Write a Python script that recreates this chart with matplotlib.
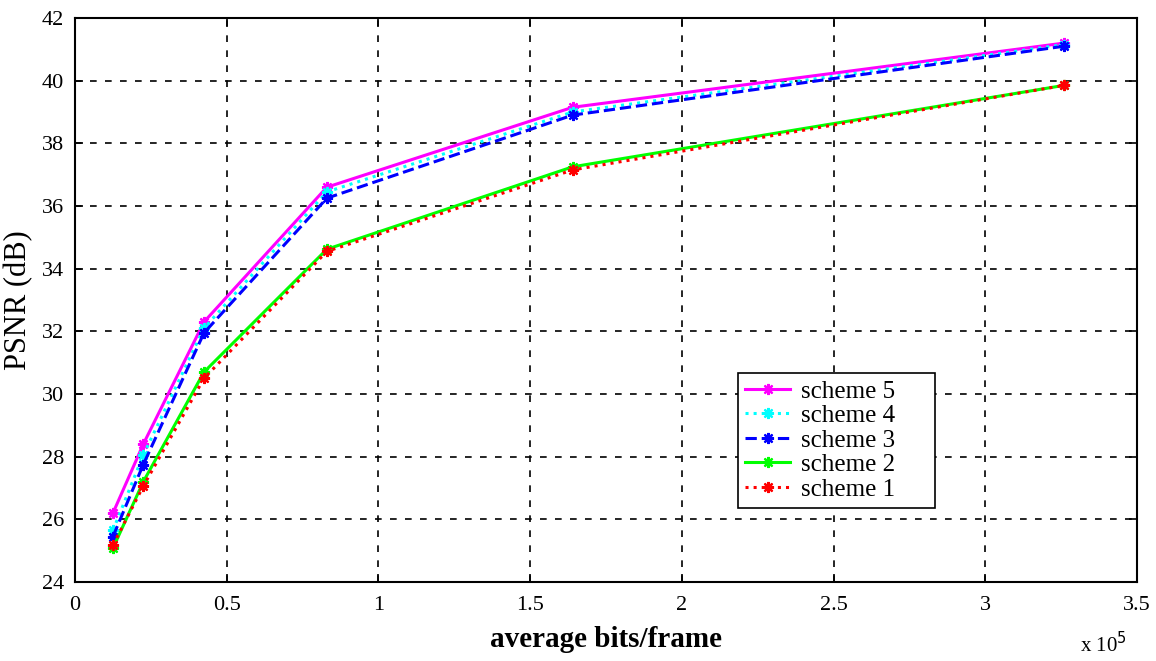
import matplotlib
matplotlib.use("Agg")
import matplotlib.pyplot as plt
import numpy as np

plt.rcParams['font.family'] = ['Liberation Serif', 'DejaVu Serif']

bits = [0.125, 0.225, 0.425, 0.83, 1.64, 3.26]  # x 10^5
scheme5 = [26.2, 28.4, 32.3, 36.6, 39.15, 41.2]
scheme4 = [25.65, 28.05, 32.1, 36.45, 39.0, 41.15]
scheme3 = [25.45, 27.75, 31.95, 36.25, 38.9, 41.1]
scheme2 = [25.08, 27.2, 30.7, 34.62, 37.25, 39.85]
scheme1 = [25.18, 27.06, 30.5, 34.55, 37.15, 39.85]

labels = ["scheme 5", "scheme 4", "scheme 3", "scheme 2", "scheme 1"]
series = [scheme5, scheme4, scheme3, scheme2, scheme1]
colors = ["#ff00ff", "#00ffff", "#0000ff", "#00ff00", "#ff0000"]
styles = ["-", ":", "--", "-", ":"]

xticks = [0, 0.5, 1, 1.5, 2, 2.5, 3, 3.5]
yticks = [24, 26, 28, 30, 32, 34, 36, 38, 40, 42]

fig = plt.figure(figsize=(11.56, 6.61), dpi=100)
ax = fig.add_axes([0.0649, 0.1195, 0.9187, 0.8533])

for y, lab, c, ls in zip(series, labels, colors, styles):
    ax.plot(bits, y, linestyle=ls, color=c, linewidth=2.2, marker=(8, 2, 0),
            markersize=8, markeredgewidth=1.6, label=lab)

ax.set_xlim(0, 3.5)
ax.set_ylim(24, 42)
ax.set_xticks(xticks)
ax.set_xticklabels([f"{t:g}" for t in xticks])
ax.set_yticks(yticks)
ax.set_yticklabels([str(t) for t in yticks])
ax.tick_params(direction='in', top=True, right=True, labelsize=16, length=6, width=1.2)
ax.tick_params(axis='x', pad=10)
ax.tick_params(axis='y', pad=8)
ax.grid(True, color='black', linestyle=(0, (4, 5)), linewidth=1.2)
for s in ax.spines.values():
    s.set_linewidth(1.5)

ax.set_xlabel("average bits/frame", fontsize=21, fontweight='bold', labelpad=8)
ax.set_ylabel("PSNR (dB)", fontsize=22, labelpad=6)
fig.text(0.934, 0.005, r"x 10$^5$", fontsize=15, ha='left', va='bottom')

leg = ax.legend(loc='lower left', bbox_to_anchor=(0.624, 0.131, 0.1855, 0.245), mode='expand',
                borderaxespad=0,
                fontsize=18, frameon=True, fancybox=False, edgecolor='black',
                handlelength=1.8, handletextpad=0.45, borderpad=0.3, labelspacing=0.08,
                framealpha=1)
leg.get_frame().set_linewidth(1.2)

fig.savefig("out.png", dpi=100)
